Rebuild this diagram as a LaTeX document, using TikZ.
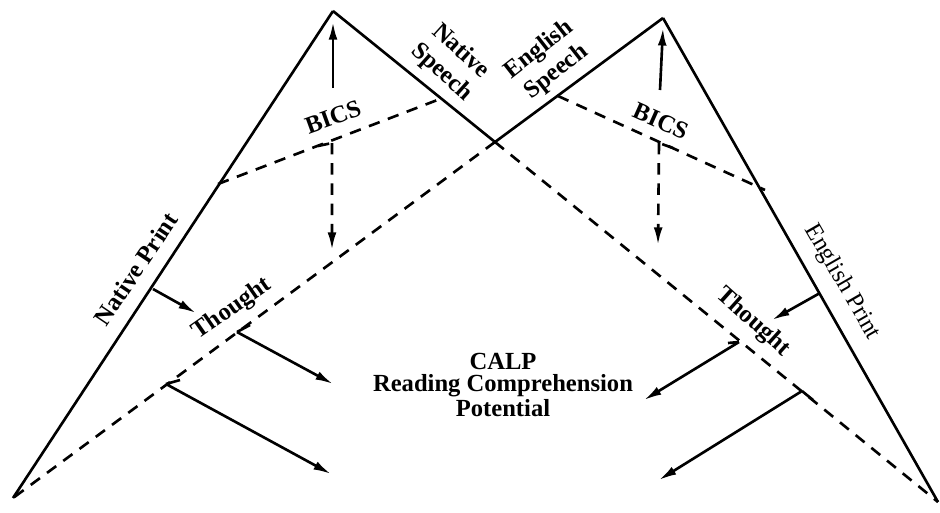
\documentclass[tikz,border=0pt]{standalone}
\usepackage{fontspec}
\setmainfont{Liberation Serif}
\usetikzlibrary{%
    arrows.meta,
    positioning
}
\tikzset{headarrow/.style = {-{Latex[length=10pt,width=5pt]}}}

\begin{document}
\begin{tikzpicture}[
    x=0.02cm, y=-0.02cm,
    line width=1.5pt,
    point/.style = {minimum size=0pt, inner sep=0pt, outer sep=0pt},
    dashline/.style = {dash pattern=on 6.5pt off 5pt},
    tag/.style = {font=\bfseries\fontsize{14}{16}\selectfont, inner sep=0pt, align=center}]
    \useasboundingbox (0,0) rectangle (940,512);

    \node[point] (natapex) at (333,11) {};
    \node[point] (natfoot) at (13,498) {};
    \node[point] (engapex) at (663,18) {};
    \node[point] (engfoot) at (938,502) {};
    \node[point] (cross) at (495,142) {};

    \draw[line join=miter] (natfoot) -- (natapex) -- (cross) -- (engapex) -- (engfoot);
    \draw[dashline] (cross) -- (engfoot);
    \draw[dashline] (cross) -- (natfoot);

    % BICS
    \node[point] (natbicsL) at (218,184) {};
    \node[point] (natbicsR) at (440,99) {};
    \node[point] (engbicsL) at (558,96) {};
    \node[point] (engbicsR) at (765,190) {};
    \draw[dashline] (natbicsL) -- (natbicsR);
    \draw[dashline] (engbicsL) -- (engbicsR);

    \node[point] (natup) at (333,88) {};
    \node[point] (nattop) [below=0.22cm of natapex] {};
    \node[point] (nathook) at (318,146) {};
    \node[point] (natdown) at (332,143) {};
    \node[point] (natbottom) at (332,250) {};
    \draw[headarrow] (natup) to (nattop);
    \draw[headarrow, dashline] (nathook) -- (natdown) -- (natbottom);

    \node[point] (engup) at (660,90) {};
    \node[point] (engtop) [below=0.2cm of engapex] {};
    \node[point] (enghook) at (673,148) {};
    \node[point] (engdown) at (659,143) {};
    \node[point] (engbottom) at (658,245) {};
    \draw[headarrow] (engup) to (engtop);
    \draw[headarrow, dashline] (enghook) -- (engdown) -- (engbottom);

    % arrows towards CALP
    \node[point] (natprint) at (153,289) {};
    \node[point] (natthink) at (196,313) {};
    \draw[headarrow] (natprint) to (natthink);

    \node[point] (nathookA) at (250,325) {};
    \node[point] (natcornerA) at (237,332) {};
    \node[point] (natendA) at (333,384) {};
    \draw[headarrow] (nathookA) -- (natcornerA) -- (natendA);

    \node[point] (nathookB) at (180,380) {};
    \node[point] (natcornerB) at (166,384) {};
    \node[point] (natendB) at (331,474) {};
    \draw[headarrow] (nathookB) -- (natcornerB) -- (natendB);

    \node[point] (engprint) at (820,293) {};
    \node[point] (engthink) at (772,320) {};
    \draw[headarrow] (engprint) to (engthink);

    \node[point] (enghookA) at (728,343) {};
    \node[point] (engcornerA) at (739,342) {};
    \node[point] (engendA) at (644,400) {};
    \draw[headarrow] (enghookA) -- (engcornerA) -- (engendA);

    \node[point] (enghookB) at (813,400) {};
    \node[point] (engcornerB) at (802,391) {};
    \node[point] (engendB) at (659,480) {};
    \draw[headarrow] (enghookB) -- (engcornerB) -- (engendB);

    % labels
    \node[tag, rotate=20] (natbics) at (333,117) {BICS};
    \node[tag, rotate=-24] (engbics) at (661,121) {BICS};
    \node[tag, rotate=-42] (natspeech) at (451,62) {Native\\Speech};
    \node[tag, rotate=38] (engspeech) at (548,61) {English\\Speech};
    \node[tag, rotate=56] (natprintlbl) at (136,269) {Native Print};
    \node[tag, font=\fontsize{14}{16}\selectfont, rotate=-60] (engprintlbl) at (842,282) {English Print};
    \node[tag, rotate=35] (natthought) at (232,309) {Thought};
    \node[tag, rotate=-42] (engthought) at (753,322) {Thought};
    \node[tag, font=\bfseries\fontsize{14}{12.5}\selectfont] (calp) at (503,385)
        {CALP\\Reading Comprehension\\Potential};
\end{tikzpicture}
\end{document}
